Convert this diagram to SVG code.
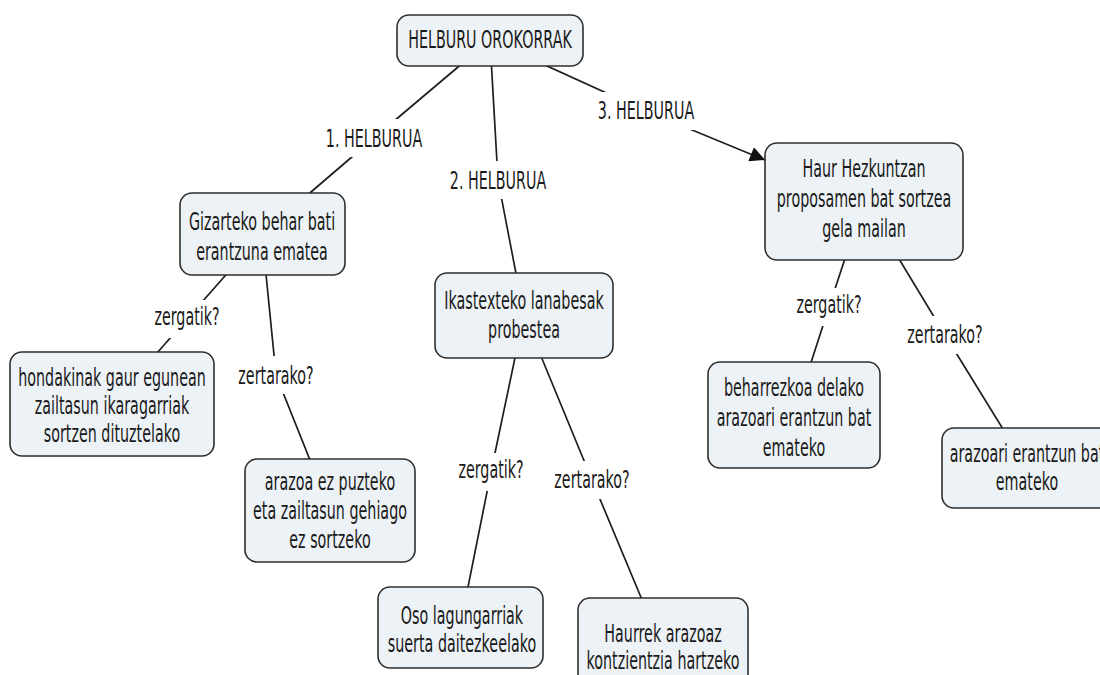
<svg xmlns="http://www.w3.org/2000/svg" width="1100" height="675" viewBox="0 0 1100 675">
<defs>
<style>
.box{fill:#edf2f6;stroke:#2e2e2e;stroke-width:1.6}
.t{font-family:"DejaVu Sans","Liberation Sans",sans-serif;font-size:24px;fill:#1a1a1a;text-anchor:middle}
.c{stroke:#1e1e1e;stroke-width:1.7;fill:none}
.bg{fill:#ffffff}
</style>
<marker id="ah" viewBox="0 0 10 10" refX="10" refY="5" markerWidth="19" markerHeight="15" markerUnits="userSpaceOnUse" orient="auto">
<path d="M0,0 L10,5 L0,10 z" fill="#111"/>
</marker>
</defs>
<rect width="1100" height="675" fill="#ffffff"/>
<g id="connectors">
<polyline class="c" points="490,40 374,138 262,234"/>
<polyline class="c" points="490,40 498,180 524,315"/>
<line class="c" x1="490" y1="40" x2="646" y2="111"/>
<line class="c" x1="646" y1="111" x2="765" y2="160" marker-end="url(#ah)"/>
<polyline class="c" points="262,234 187,319 112,404"/>
<polyline class="c" points="262,234 276,375 330,510"/>
<polyline class="c" points="524,315 491,472 460,627"/>
<polyline class="c" points="524,315 592,480 663,650"/>
<polyline class="c" points="864,201 829,307 794,415"/>
<polyline class="c" points="864,201 945,335 1027,468"/>
<rect class="bg" x="321" y="119" width="106" height="38"/>
<rect class="bg" x="445" y="161" width="106" height="38"/>
<rect class="bg" x="593" y="92" width="106" height="38"/>
<rect class="bg" x="149" y="300" width="76" height="38"/>
<rect class="bg" x="233" y="356" width="86" height="38"/>
<rect class="bg" x="453" y="453" width="76" height="38"/>
<rect class="bg" x="549" y="461" width="86" height="38"/>
<rect class="bg" x="791" y="288" width="76" height="38"/>
<rect class="bg" x="902" y="316" width="86" height="38"/>
<text class="t" transform="translate(374,147) scale(0.596,1)">1. HELBURUA</text>
<text class="t" transform="translate(498,189) scale(0.596,1)">2. HELBURUA</text>
<text class="t" transform="translate(646,119) scale(0.596,1)">3. HELBURUA</text>
<text class="t" transform="translate(187,325) scale(0.596,1)">zergatik?</text>
<text class="t" transform="translate(276,384) scale(0.596,1)">zertarako?</text>
<text class="t" transform="translate(491,478) scale(0.596,1)">zergatik?</text>
<text class="t" transform="translate(592,488) scale(0.596,1)">zertarako?</text>
<text class="t" transform="translate(829,313) scale(0.596,1)">zergatik?</text>
<text class="t" transform="translate(945,343) scale(0.596,1)">zertarako?</text>
</g>
<g id="n-helburu">
<rect class="box" x="397" y="15" width="186" height="51" rx="12"/>
<text class="t" transform="translate(490,48) scale(0.596,1)">HELBURU OROKORRAK</text>
</g>
<g id="n-gizarteko">
<rect class="box" x="180" y="193" width="165" height="82" rx="12"/>
<text class="t" transform="translate(262,230) scale(0.596,1)">Gizarteko behar bati</text>
<text class="t" transform="translate(262,260) scale(0.596,1)">erantzuna ematea</text>
</g>
<g id="n-hondakinak">
<rect class="box" x="10" y="352" width="204" height="104" rx="12"/>
<text class="t" transform="translate(112,386) scale(0.596,1)">hondakinak gaur egunean</text>
<text class="t" transform="translate(112,414) scale(0.596,1)">zailtasun ikaragarriak</text>
<text class="t" transform="translate(112,442) scale(0.596,1)">sortzen dituztelako</text>
</g>
<g id="n-arazoa">
<rect class="box" x="245" y="459" width="170" height="103" rx="12"/>
<text class="t" transform="translate(330,490) scale(0.596,1)">arazoa ez puzteko</text>
<text class="t" transform="translate(330,519) scale(0.596,1)">eta zailtasun gehiago</text>
<text class="t" transform="translate(330,548) scale(0.596,1)">ez sortzeko</text>
</g>
<g id="n-ikastexteko">
<rect class="box" x="435" y="273" width="178" height="85" rx="12"/>
<text class="t" transform="translate(524,309) scale(0.596,1)">Ikastexteko lanabesak</text>
<text class="t" transform="translate(524,338) scale(0.596,1)">probestea</text>
</g>
<g id="n-oso">
<rect class="box" x="378" y="587" width="165" height="81" rx="12"/>
<text class="t" transform="translate(462,624) scale(0.596,1)">Oso lagungarriak</text>
<text class="t" transform="translate(462,652) scale(0.596,1)">suerta daitezkeelako</text>
</g>
<g id="n-haurrek">
<rect class="box" x="578" y="598" width="170" height="92" rx="12"/>
<text class="t" transform="translate(663,642) scale(0.596,1)">Haurrek arazoaz</text>
<text class="t" transform="translate(663,669) scale(0.596,1)">kontzientzia hartzeko</text>
</g>
<g id="n-haur">
<rect class="box" x="765" y="143" width="198" height="117" rx="12"/>
<text class="t" transform="translate(864,177) scale(0.596,1)">Haur Hezkuntzan</text>
<text class="t" transform="translate(864,207) scale(0.596,1)">proposamen bat sortzea</text>
<text class="t" transform="translate(864,237) scale(0.596,1)">gela mailan</text>
</g>
<g id="n-beharrezkoa">
<rect class="box" x="708" y="362" width="172" height="106" rx="12"/>
<text class="t" transform="translate(794,396) scale(0.596,1)">beharrezkoa delako</text>
<text class="t" transform="translate(794,426) scale(0.596,1)">arazoari erantzun bat</text>
<text class="t" transform="translate(794,456) scale(0.596,1)">emateko</text>
</g>
<g id="n-arazoari">
<rect class="box" x="942" y="428" width="170" height="80" rx="12"/>
<text class="t" transform="translate(1027,462) scale(0.596,1)">arazoari erantzun bat</text>
<text class="t" transform="translate(1027,490) scale(0.596,1)">emateko</text>
</g>
</svg>
